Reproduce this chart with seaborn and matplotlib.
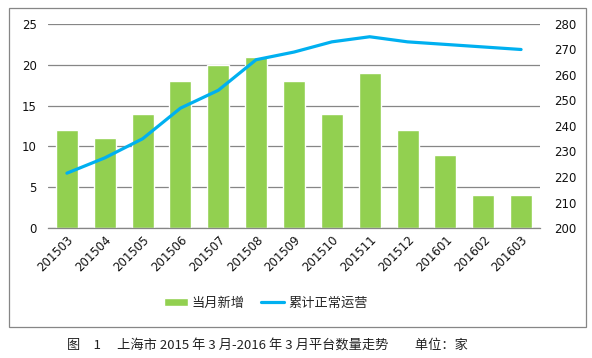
import numpy as np
import pandas as pd
import matplotlib
matplotlib.use('Agg')
import matplotlib.pyplot as plt
import seaborn as sns
from matplotlib.patches import Rectangle, Patch
from matplotlib.lines import Line2D
from matplotlib.ticker import FixedLocator

# 数据
months = ['201503', '201504', '201505', '201506', '201507', '201508', '201509',
          '201510', '201511', '201512', '201601', '201602', '201603']
new_added = [12, 11, 14, 18, 20, 21, 18, 14, 19, 12, 9, 4, 4]
cumulative = [221.5, 227.5, 235, 247, 254, 266, 269, 273, 275, 273, 272, 271, 270]

df = pd.DataFrame({'month': months, 'new': new_added, 'cum': cumulative})
df['pos'] = np.arange(len(df))

bar_color = '#92D050'
line_color = '#00B0F0'
grid_color = '#868686'

sns.set_style('white')
plt.rcParams['font.family'] = ['DejaVu Sans', 'Noto Sans CJK SC']

fig = plt.figure(figsize=(5.92, 3.58), dpi=100)
ax = fig.add_axes([48 / 592, 1 - 228 / 358, 492 / 592, 204 / 358])

sns.barplot(data=df, x='month', y='new', color=bar_color, width=0.58,
            saturation=1, ax=ax)
ax.set_xlim(-0.5, len(months) - 0.5)
ax.set_ylim(0, 25)
ax.set_yticks(range(0, 26, 5))
ax.yaxis.grid(True, color=grid_color, linewidth=0.9)
ax.set_axisbelow(True)
for s in ['left', 'right', 'top']:
    ax.spines[s].set_visible(False)
ax.spines['bottom'].set_color(grid_color)
ax.spines['bottom'].set_linewidth(0.9)
ax.set_xlabel('')
ax.set_ylabel('')
ax.tick_params(axis='y', length=0, pad=8, labelsize=8.5, labelcolor='#111111')
ax.tick_params(axis='x', which='major', length=0, pad=4, labelsize=8.5, labelcolor='#111111')
ax.xaxis.set_minor_locator(FixedLocator(np.arange(-0.5, len(months), 1.0)))
ax.tick_params(axis='x', which='minor', length=4, color=grid_color, width=0.9)
for lab in ax.get_xticklabels():
    lab.set_rotation(45)
    lab.set_ha('right')
    lab.set_rotation_mode('anchor')

ax2 = ax.twinx()
sns.lineplot(data=df, x='pos', y='cum', color=line_color, linewidth=2.3, ax=ax2)
ax2.set_ylim(200, 280)
ax2.set_yticks(range(200, 281, 10))
for s in ['left', 'right', 'top', 'bottom']:
    ax2.spines[s].set_visible(False)
ax2.set_xlabel('')
ax2.set_ylabel('')
ax2.tick_params(axis='y', length=0, pad=10, labelsize=8.5, labelcolor='#111111')
ax2.set_xlim(-0.5, len(months) - 0.5)

# 外框
fig.patches.append(Rectangle((9 / 592, 1 - 327 / 358), 577 / 592, 319 / 358,
                             transform=fig.transFigure, fill=False,
                             edgecolor=grid_color, linewidth=0.9))

handles = [Patch(facecolor=bar_color, label='当月新增'),
           Line2D([0], [0], color=line_color, linewidth=2.3, label='累计正常运营')]
fig.legend(handles=handles, loc='center', bbox_to_anchor=(266 / 592, 1 - 303 / 358),
           ncol=2, frameon=False, handlelength=1.8,
           handleheight=0.6, columnspacing=1.2, handletextpad=0.3,
           prop={'family': 'Noto Sans CJK SC', 'size': 9.5})

fig.text(267 / 592, 1 - 345 / 358,
         '图\u30001\u3000 上海市 2015 年 3 月-2016 年 3 月平台数量走势\u3000\u3000单位：家',
         ha='center', va='center', fontsize=9.5, color='#222222',
         family='Noto Sans CJK SC')

fig.savefig('out.png', dpi=100)
